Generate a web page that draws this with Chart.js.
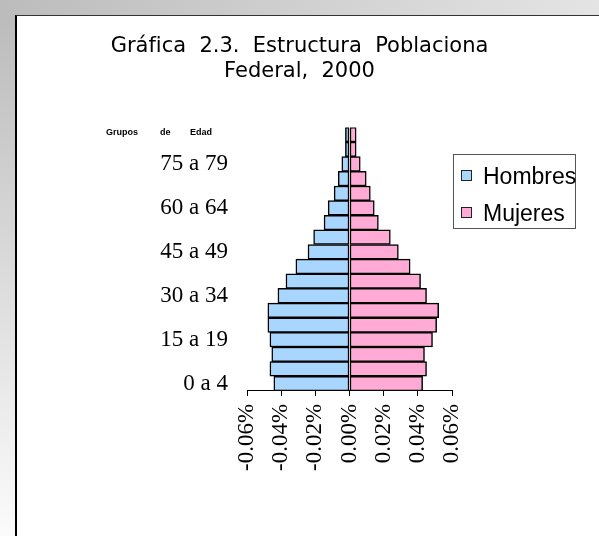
<!DOCTYPE html>
<html lang="es">
<head>
<meta charset="utf-8">
<script src="https://cdn.jsdelivr.net/npm/chart.js@4.4.1/dist/chart.umd.min.js"></script>
<style>
  body {
    margin: 0;
    width: 599px;
    height: 536px;
    position: relative;
    overflow: hidden;
    background: linear-gradient(to bottom, #bababa, #fbfbfb);
  }
  #topBand {
    position: absolute; left: 0; top: 0; width: 599px; height: 15px;
    background: linear-gradient(to right, #bcbcbc, #e4e4e4);
  }
  #panel {
    position: absolute; left: 15px; top: 15px; right: 0; bottom: 0;
    background: #fff;
    border-left: 2px solid #000;
    border-top: 1px solid #333;
  }
  #chartBox { position: absolute; left: 0; top: 0; width: 599px; height: 536px; }
  #legend {
    position: absolute; left: 453px; top: 154px;
    width: 121px; height: 73px;
    border: 1px solid #555;
    background: #fff;
    font-family: "Liberation Sans", Arial, sans-serif;
    font-size: 23px;
    white-space: nowrap;
  }
  .item { position: absolute; left: 7px; height: 26px; line-height: 26px; }
  .swatch {
    display: inline-block; width: 9px; height: 9px;
    border: 1px solid #222; margin-right: 11px; vertical-align: 3px;
  }
</style>
</head>
<body>
<div id="topBand"></div>
<div id="panel"></div>
<div id="chartBox"><canvas id="pyramid" width="599" height="536"></canvas></div>
<div id="legend"></div>

<script>
// grupos de edad, de abajo hacia arriba
const ageGroups = [
  "0 a 4", "5 a 9", "10 a 14", "15 a 19", "20 a 24", "25 a 29",
  "30 a 34", "35 a 39", "40 a 44", "45 a 49", "50 a 54", "55 a 59",
  "60 a 64", "65 a 69", "70 a 74", "75 a 79", "80 a 84", "85 y más"
];

// porcentajes (hombres van a la izquierda)
const hombres = [
  -0.0443, -0.0466, -0.0455, -0.0466, -0.0478, -0.0478,
  -0.0419, -0.0372, -0.0314, -0.0243, -0.0210, -0.0149,
  -0.0125, -0.0090, -0.0066, -0.0045, -0.0024, -0.0024
];
const mujeres = [
  0.0428, 0.0451, 0.0439, 0.0486, 0.0510, 0.0522,
  0.0451, 0.0416, 0.0355, 0.0286, 0.0239, 0.0169,
  0.0145, 0.0122, 0.0098, 0.0063, 0.0039, 0.0039
];

const xTickValues = [-0.06, -0.04, -0.02, 0, 0.02, 0.04, 0.06];

const COLOR_H = "#a9d6ff";
const COLOR_M = "#ffabd6";

const serif = '"Liberation Serif", "Times New Roman", serif';

// texto "Grupos de Edad" sobre las etiquetas
const groupTitle = {
  id: "groupTitle",
  afterDraw(chart) {
    const ctx = chart.ctx;
    ctx.save();
    ctx.font = 'bold 9px "Liberation Sans", Arial, sans-serif';
    ctx.fillStyle = "#000";
    ctx.textBaseline = "middle";
    ctx.fillText("Grupos", 106, 133);
    ctx.fillText("de", 160, 133);
    ctx.fillText("Edad", 190, 133);
    ctx.restore();
  }
};

const chart = new Chart(document.getElementById("pyramid"), {
  type: "bar",
  data: {
    labels: ageGroups,
    datasets: [
      {
        label: "Hombres",
        data: hombres,
        backgroundColor: COLOR_H,
        borderColor: "#000",
        borderWidth: 1.5,
        borderSkipped: false
      },
      {
        label: "Mujeres",
        data: mujeres,
        backgroundColor: COLOR_M,
        borderColor: "#000",
        borderWidth: 1.5,
        borderSkipped: false
      }
    ]
  },
  options: {
    indexAxis: "y",
    responsive: false,
    animation: false,
    barPercentage: 1,
    categoryPercentage: 1,
    layout: {
      padding: { top: 15, left: 0, right: 0, bottom: 57 }
    },
    plugins: {
      legend: { display: false },
      tooltip: { enabled: false },
      title: {
        display: true,
        text: ["Gráfica  2.3.  Estructura  Poblaciona", "Federal,  2000"],
        color: "#000",
        font: { family: '"DejaVu Sans", Verdana, sans-serif', size: 21, weight: "normal", lineHeight: 1.2 },
        padding: { top: 19, bottom: 43 }
      }
    },
    scales: {
      x: {
        stacked: true,
        min: -0.06,
        max: 0.06,
        afterBuildTicks: axis => {
          axis.ticks = xTickValues.map(v => ({ value: v }));
        },
        grid: {
          display: true,
          drawOnChartArea: false,
          drawTicks: true,
          tickLength: 5,
          color: "#000"
        },
        border: { display: true, color: "#000", width: 1 },
        ticks: {
          minRotation: 90,
          maxRotation: 90,
          padding: 8,
          color: "#000",
          font: { family: serif, size: 23 },
          callback: v => (Math.abs(v) < 1e-9 ? 0 : v).toFixed(2) + "%"
        }
      },
      y: {
        stacked: true,
        reverse: true,
        afterFit: axis => { axis.width = 247; },
        grid: { display: false, drawTicks: false },
        border: { display: false },
        ticks: {
          autoSkip: false,
          padding: 19,
          color: "#000",
          font: { family: serif, size: 23 },
          callback: function (value, index) {
            return index % 3 === 0 ? this.getLabelForValue(value) : "";
          }
        }
      },
      // eje vacío a la derecha: deja el espacio donde va la leyenda
      yRight: {
        type: "linear",
        position: "right",
        afterFit: axis => { axis.width = 147; },
        grid: { display: false, drawTicks: false },
        border: { display: false },
        ticks: { display: false }
      }
    }
  },
  plugins: [groupTitle]
});

// leyenda con recuadro, a partir de los datasets
const legendBox = document.getElementById("legend");
chart.data.datasets.forEach((ds, i) => {
  const item = document.createElement("div");
  item.className = "item";
  item.style.top = (8 + i * 37) + "px";
  item.innerHTML = '<span class="swatch" style="background:' + ds.backgroundColor + '"></span>' + ds.label;
  legendBox.appendChild(item);
});
</script>
</body>
</html>
